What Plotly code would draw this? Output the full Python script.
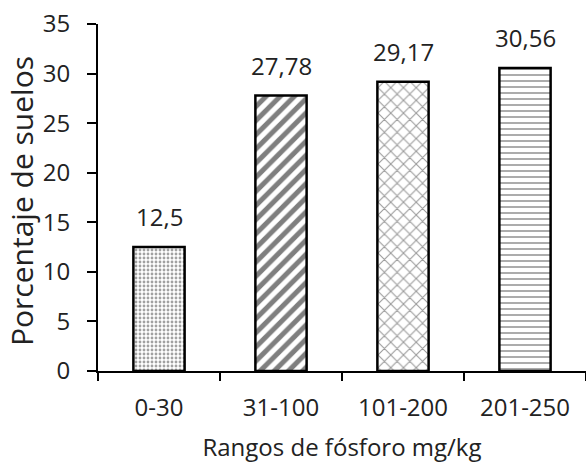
import plotly.graph_objects as go

# Soil phosphorus ranges and share of soils in each range
rangos = ["0-30", "31-100", "101-200", "201-250"]
porcentaje = [12.5, 27.78, 29.17, 30.56]

# Hatch style for each bar
patrones = [".", "/", "x", "-"]
color_patron = ["#444444", "#000000", "#333333", "#222222"]
tam_patron = [4, 10, 9, 6]
solidez = [0.4, 0.5, 0.22, 0.25]

FONT = "Open Sans"
INK = "#222222"

fig = go.Figure()
fig.add_trace(go.Bar(
    x=rangos,
    y=porcentaje,
    width=0.42,
    marker=dict(
        color="white",
        line=dict(color="black", width=2.5),
        pattern=dict(
            shape=patrones,
            fgcolor=color_patron,
            bgcolor="white",
            size=tam_patron,
            solidity=solidez,
            fillmode="overlay",
        ),
    ),
    hoverinfo="skip",
))

# Value labels above each bar, decimal comma
for cat, val in zip(rangos, porcentaje):
    fig.add_annotation(
        x=cat, y=val, xref="x", yref="y",
        text=f"{val:g}".replace(".", ","),
        showarrow=False, yanchor="bottom", yshift=12,
        font=dict(family=FONT, size=24, color=INK),
    )

# Vertical axis title, placed by pixel offset within the plot area
top, plot_h = 24, 463 - 24 - 92
title_center_px = 201
fig.add_annotation(
    x=0, xref="paper", xanchor="center", xshift=-76,
    y=1 - (title_center_px - top) / plot_h, yref="paper", yanchor="middle",
    text="Porcentaje de suelos", textangle=-90, showarrow=False,
    borderpad=0,
    font=dict(family=FONT, size=30, color=INK),
)

fig.update_layout(
    width=586, height=463,
    margin=dict(l=98, r=0, t=top, b=92),
    paper_bgcolor="white", plot_bgcolor="white",
    showlegend=False,
    font=dict(family=FONT, color=INK),
    xaxis=dict(
        type="category",
        range=[-0.5, 3.5],
        showline=True, linecolor="black", linewidth=2,
        ticks="outside", tickson="boundaries", ticklen=8, tickwidth=2, tickcolor="black",
        tickfont=dict(family=FONT, size=24, color=INK),
        ticklabelstandoff=14,
        title=dict(text="Rangos de fósforo mg/kg", standoff=22,
                   font=dict(family=FONT, size=24, color=INK)),
        showgrid=False, zeroline=False,
    ),
    yaxis=dict(
        range=[0, 35], dtick=5, tick0=0,
        showline=True, linecolor="black", linewidth=2,
        ticks="outside", ticklen=9, tickwidth=2, tickcolor="black",
        tickfont=dict(family=FONT, size=24, color=INK),
        ticklabelstandoff=12,
        showgrid=False, zeroline=False,
    ),
)

fig.write_html("out.html")
